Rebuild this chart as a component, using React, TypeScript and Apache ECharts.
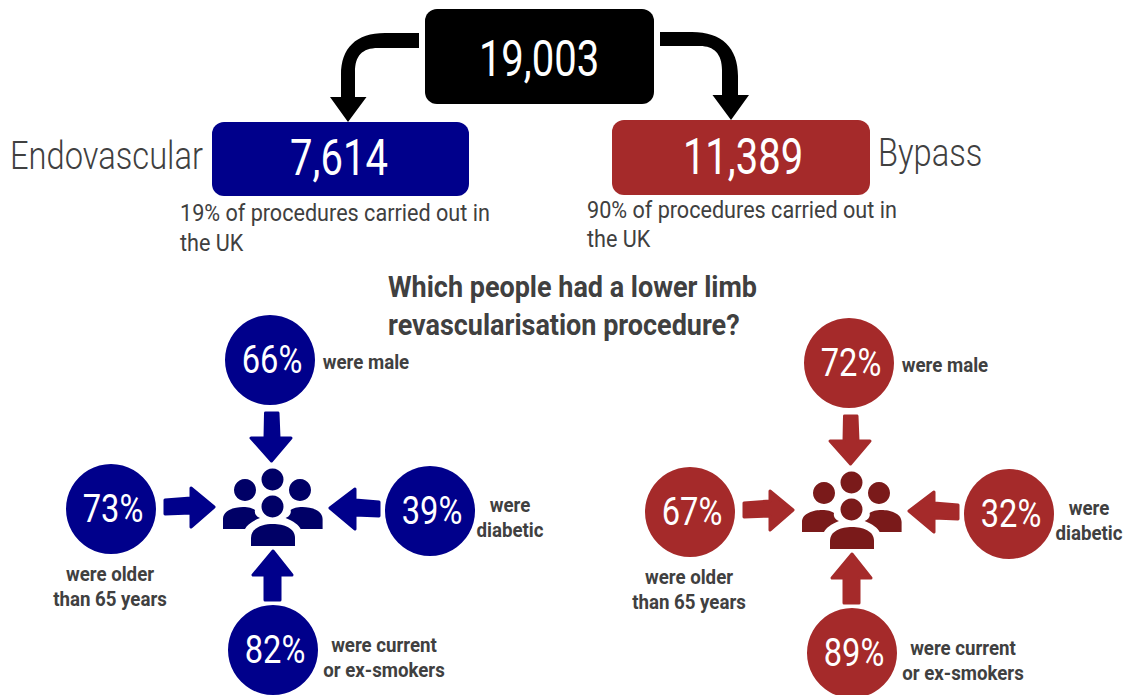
import React, { useEffect, useRef } from "react";
import * as echarts from "echarts";

const totalLabel = "19,003";
const endovascularName = "Endovascular";
const bypassName = "Bypass";
const endovascularTotal = "7,614";
const bypassTotal = "11,389";
const endovascularShare = ["19% of procedures carried out in", "the UK"];
const bypassShare = ["90% of procedures carried out in", "the UK"];
const titleLines = ["Which people had a lower limb", "revascularisation procedure?"];
const endovascularPct = [66, 73, 39, 82];
const bypassPct = [72, 67, 32, 89];
const traitLabels = [
  ["were male"],
  ["were older", "than 65 years"],
  ["were", "diabetic"],
  ["were current", "or ex-smokers"],
];

const BLUE = "#00008B";
const BLUE_DARK = "#000066";
const RED = "#A52A2A";
const RED_DARK = "#7A1A1A";
const TEXT = "#404040";
const FONT = "Roboto";

const reg = (name: string, d: string) =>
  echarts.graphic.registerShape(name, echarts.graphic.extendPath(d, {}));

reg("arrowL", "M419 33 L385 33 C356 33 341 48 341 75 L341 97 L330 97 L348 122 L366.5 97 L355 97 L355 72 C355 56 362 48 378 48 L419 48 Z");
reg("arrowR", "M660 32 L692 32 C722 32 738 48 738 76 L738 95 L749 95 L731 120 L712.5 95 L722 95 L722 70 C722 54 714 46 700 46 L660 46 Z");
reg("bodyB", "M251 546 L251 538 C251 528 262 524 273 524 C284 524 295 528 295 538 L295 546 Z");
reg("bodyL", "M223 529 L223 519 C223 510 235 507 243 507 C249 507 252 508 255 510 C254 514 257 517 260 518 C252 521 247 525 245 529 Z");
reg("bodyR", "M322.6 529 L322.6 519 C322.6 510 310.6 507 302.6 507 C296.6 507 293.6 508 290.6 510 C291.6 514 288.6 517 285.6 518 C293.6 521 298.6 525 300.6 529 Z");

const txt = (
  text: string,
  x: number,
  y: number,
  size: number,
  fill: string,
  weight: number | string,
  align: string,
  scaleX: number
) => ({
  type: "text",
  x,
  y,
  scaleX,
  style: {
    text,
    fill,
    fontFamily: FONT,
    fontSize: size,
    fontWeight: weight,
    textAlign: align,
    align,
    textVerticalAlign: "middle",
    verticalAlign: "middle",
  },
});

const box = (x: number, y: number, w: number, h: number, fill: string) => ({
  type: "rect",
  shape: { x, y, width: w, height: h, r: 12 },
  style: { fill },
});

const arrow = (points: number[][], fill: string) => ({
  type: "polygon",
  shape: { points },
  style: { fill, stroke: fill, lineWidth: 3, lineJoin: "round" },
});

const cluster = (
  dx: number,
  dy: number,
  pct: number[],
  main: string,
  dark: string
) => {
  const centers = [
    [270, 360],
    [111, 509],
    [430, 511],
    [273, 650],
  ];
  const labelPos = [
    [[366, 362]],
    [[110, 574], [110, 599]],
    [[510, 505], [510, 530]],
    [[384, 645], [384, 670]],
  ];
  const children: any[] = [];
  centers.forEach(([cx, cy], i) => {
    children.push({ type: "circle", shape: { cx, cy, r: 45 }, style: { fill: main } });
    children.push(txt(`${pct[i]}%`, cx + 2, cy, 38, "#FFFFFF", 400, "center", 0.86));
    traitLabels[i].forEach((line, j) => {
      const [lx, ly] = labelPos[i][j];
      children.push(txt(line, lx, ly, 21, TEXT, 700, "center", 0.89));
    });
  });
  children.push(arrow([[265.5, 413], [278, 413], [279, 438], [291, 438], [271.5, 461], [251, 438], [265, 438]], main));
  children.push(arrow([[165, 500], [191, 498], [191, 488], [214, 507], [191, 527], [191, 513], [165, 514]], main));
  children.push(arrow([[379, 502], [355, 500], [355, 489], [330, 508], [355, 529], [355, 515], [379, 516]], main));
  children.push(arrow([[265, 600], [280, 600], [280, 575], [292, 575], [273, 551], [253, 575], [265, 575]], main));
  [[272.5, 479.5], [245, 490], [300, 490], [272.5, 506.5]].forEach(([cx, cy]) => {
    children.push({ type: "circle", shape: { cx, cy, r: 11 }, style: { fill: dark } });
  });
  ["bodyB", "bodyL", "bodyR"].forEach((type) => {
    children.push({ type, x: 0, y: 0, style: { fill: dark } });
  });
  return { type: "group", x: dx, y: dy, children };
};

export default function App() {
  const ref = useRef<HTMLDivElement>(null);
  useEffect(() => {
    const chart = echarts.init(ref.current!, null, { renderer: "svg" });
    chart.setOption({
      animation: false,
      backgroundColor: "#FFFFFF",
      graphic: {
        elements: [
          box(425, 9, 229, 95, "#000000"),
          box(212, 122, 257, 74, BLUE),
          box(612, 120, 258, 75, RED),
          { type: "arrowL", x: 0, y: 0, style: { fill: "#000000" } },
          { type: "arrowR", x: 0, y: 0, style: { fill: "#000000" } },
          txt(totalLabel, 539, 59, 50, "#FFFFFF", 400, "center", 0.8),
          txt(endovascularTotal, 339, 158, 50, "#FFFFFF", 400, "center", 0.8),
          txt(bypassTotal, 743, 157, 50, "#FFFFFF", 400, "center", 0.8),
          txt(endovascularName, 10, 156, 38, TEXT, 300, "left", 0.86),
          txt(bypassName, 878, 153, 38, TEXT, 300, "left", 0.86),
          txt(endovascularShare[0], 180, 213, 24, TEXT, 400, "left", 0.9),
          txt(endovascularShare[1], 180, 243, 24, TEXT, 400, "left", 0.9),
          txt(bypassShare[0], 587, 210, 24, TEXT, 400, "left", 0.9),
          txt(bypassShare[1], 587, 239, 24, TEXT, 400, "left", 0.9),
          txt(titleLines[0], 388, 287, 30, TEXT, 700, "left", 0.9),
          txt(titleLines[1], 388, 325, 30, TEXT, 700, "left", 0.9),
          cluster(0, 0, endovascularPct, BLUE, BLUE_DARK),
          cluster(579, 3, bypassPct, RED, RED_DARK),
        ],
      },
    });
    return () => chart.dispose();
  }, []);
  return (
    <div
      ref={ref}
      style={{ position: "fixed", left: 0, top: 0, width: 1130, height: 695 }}
    />
  );
}
